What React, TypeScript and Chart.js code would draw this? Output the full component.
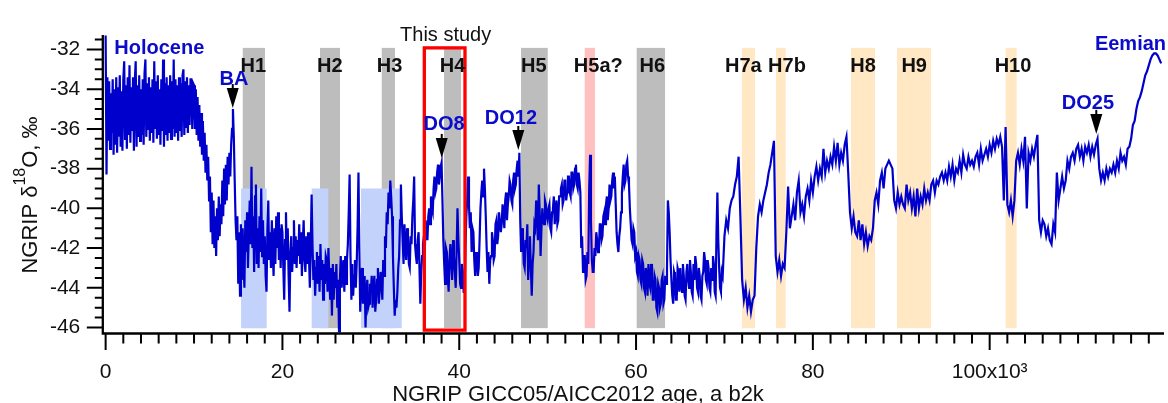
import React, { useEffect, useRef } from 'react';
import { Chart, registerables } from 'chart.js';

Chart.register(...registerables);

// ---------------- DATA ----------------
// NGRIP d18O (permil); each block starts at BLOCK_START_KA and is sampled every BLOCK_STEP_KA
const BLOCK_START_KA = [0, 10, 40, 70, 80, 100];
const BLOCK_STEP_KA = [0.1, 0.1, 0.1, 0.2, 0.2, 0.2];

const D18O_0_10 = [
  -31.3, -38.3, -33.4, -36.6, -33.6, -37.0, -34.2, -36.2, -33.5, -37.3,
  -34.0, -36.8, -33.4, -37.2, -33.9, -36.4, -33.3, -36.9, -34.1, -37.1,
  -33.5, -32.6, -36.5, -33.8, -37.0, -33.4, -36.3, -32.8, -36.7, -33.9,
  -36.1, -33.4, -37.1, -33.6, -32.6, -36.9, -33.8, -36.4, -33.3, -36.6,
  -34.0, -36.3, -33.5, -36.8, -33.2, -32.5, -36.4, -33.7, -36.0, -33.4,
  -36.6, -33.9, -36.2, -33.5, -36.7, -32.6, -36.0, -33.6, -36.5, -33.3,
  -36.3, -34.0, -36.8, -33.5, -36.1, -32.5, -36.9, -33.7, -36.3, -33.4,
  -36.6, -33.8, -36.2, -33.3, -36.5, -33.6, -36.0, -32.5, -36.4, -33.5,
  -36.2, -33.8, -36.6, -33.4, -36.1, -33.7, -36.4, -33.3, -33.0, -36.3,
  -33.6, -35.9, -33.4, -36.2, -33.8, -35.8, -33.5, -33.5, -36.0, -33.7,
];
const D18O_10_40 = [
  -33.8, -36.0, -34.0, -36.3, -34.4, -36.6, -34.8, -36.9, -35.2, -37.3,
  -35.6, -37.6, -36.2, -38.2, -36.8, -38.6, -37.4, -39.6, -38.4, -41.2,
  -39.2, -41.8, -39.6, -42.0, -40.4, -42.4, -40.0, -41.6, -39.4, -41.4,
  -39.8, -40.8, -38.6, -40.4, -38.0, -39.8, -37.8, -39.6, -37.4, -38.8,
  -37.2, -38.4, -36.8, -36.0, -35.0, -36.4, -38.6, -40.6, -41.6, -40.4,
  -43.8, -41.2, -44.4, -40.8, -43.6, -41.0, -42.8, -44.0, -40.6, -42.2,
  -40.2, -43.0, -41.2, -39.6, -41.8, -37.9, -42.0, -40.4, -43.2, -39.4,
  -38.8, -42.8, -41.0, -43.0, -40.4, -42.2, -39.0, -42.4, -40.6, -42.8,
  -41.4, -43.4, -44.2, -41.0, -39.6, -42.6, -41.2, -43.0, -40.6, -42.2,
  -43.4, -41.0, -42.8, -40.4, -42.0, -40.2, -42.6, -41.0, -43.0, -40.8,
  -41.2, -43.0, -44.6, -41.6, -40.2, -42.6, -41.0, -43.4, -45.2, -42.2,
  -41.4, -43.2, -42.0, -40.6, -42.8, -41.4, -43.0, -41.6, -42.4, -40.8,
  -42.8, -41.2, -43.4, -41.8, -40.6, -42.6, -43.2, -41.4, -42.8, -41.2,
  -42.4, -44.0, -42.0, -39.3, -41.8, -43.6, -42.6, -44.4, -43.0, -42.2,
  -43.8, -42.4, -44.2, -41.8, -43.6, -42.6, -44.6, -42.8, -43.8, -42.4,
  -42.6, -44.2, -42.0, -43.4, -44.6, -43.0, -45.4, -42.8, -44.6, -43.2,
  -44.0, -42.8, -45.0, -43.6, -46.2, -43.6, -42.4, -44.0, -43.0, -42.6,
  -44.2, -42.4, -43.8, -42.6, -41.8, -40.2, -38.3, -42.4, -44.6, -42.8,
  -44.4, -43.4, -42.6, -44.0, -42.8, -41.0, -38.2, -42.0, -45.2, -43.6,
  -43.0, -44.8, -44.4, -43.4, -46.0, -44.2, -43.6, -45.0, -44.8, -43.8,
  -44.2, -43.4, -45.0, -44.0, -43.4, -45.2, -44.6, -43.6, -43.0, -44.8,
  -44.2, -43.2, -43.6, -44.6, -42.6, -43.4, -41.4, -42.0, -40.2, -40.8,
  -39.2, -40.0, -38.6, -39.4, -40.4, -42.4, -44.0, -45.4, -44.6, -45.0,
  -44.2, -43.0, -42.4, -40.6, -38.8, -40.4, -41.6, -42.8, -40.8, -41.8,
  -42.6, -41.0, -41.4, -42.8, -43.0, -41.4, -41.8, -40.4, -39.6, -38.4,
  -41.8, -42.4, -42.8, -41.6, -41.2, -43.0, -44.8, -43.2, -42.4, -41.8,
  -41.4, -42.2, -40.6, -41.2, -41.6, -40.4, -40.0, -40.8, -39.4, -40.0,
  -40.2, -39.0, -38.4, -39.2, -39.0, -38.2, -37.8, -38.8, -38.4, -37.9,
  -37.7, -39.6, -41.6, -42.8, -43.8, -42.0, -42.2, -43.4, -44.2, -42.6,
  -41.8, -42.8, -43.6, -41.6, -42.4, -43.2, -44.0, -42.2, -40.0, -41.6,
];
const D18O_40_70 = [
  -42.6, -43.8, -44.0, -42.8, -43.2, -44.2, -44.2, -42.0, -40.4, -39.6,
  -38.4, -39.8, -41.0, -40.2, -42.2, -41.0, -41.2, -42.6, -43.4, -42.2,
  -42.6, -43.4, -43.0, -41.6, -40.0, -39.2, -38.6, -39.4, -38.0, -39.0,
  -40.4, -42.0, -43.2, -42.2, -43.8, -42.6, -42.4, -41.2, -41.6, -42.6,
  -42.4, -40.8, -40.6, -41.8, -41.4, -40.2, -40.2, -41.2, -40.8, -39.8,
  -40.2, -41.0, -39.6, -39.2, -40.6, -39.8, -39.4, -38.6, -38.8, -39.6,
  -39.8, -38.6, -38.2, -39.0, -38.8, -38.0, -37.6, -38.4, -37.2, -40.6,
  -42.2, -41.0, -41.4, -42.8, -43.0, -41.6, -42.0, -40.8, -43.6, -42.4,
  -41.4, -43.0, -44.4, -42.8, -42.2, -40.8, -41.0, -39.6, -40.0, -41.6,
  -38.8, -40.2, -42.4, -41.0, -40.0, -40.6, -40.8, -39.6, -39.8, -40.4,
  -40.6, -40.0, -39.8, -41.0, -41.2, -40.2, -40.0, -39.4, -40.8, -40.2,
  -39.6, -40.8, -40.6, -39.4, -39.4, -39.0, -38.8, -39.8, -39.6, -38.6,
  -38.6, -39.6, -39.2, -38.4, -38.4, -39.2, -39.4, -38.2, -38.2, -39.0,
  -38.8, -38.0, -37.8, -38.8, -39.0, -38.2, -38.6, -39.2, -42.0, -41.4,
  -43.2, -42.4, -42.4, -43.6, -43.4, -42.2, -42.8, -39.0, -37.3, -40.6,
  -42.6, -43.2, -43.2, -42.0, -42.4, -41.2, -41.6, -42.2, -42.0, -40.8,
  -40.8, -41.6, -41.4, -40.4, -40.2, -40.8, -39.8, -39.4, -40.6, -40.0,
  -38.8, -39.6, -39.4, -38.6, -38.2, -39.0, -38.4, -39.8, -41.2, -41.8,
  -42.2, -41.4, -41.0, -40.2, -39.2, -38.4, -37.8, -38.8, -38.6, -37.8,
  -37.6, -38.4, -38.8, -40.0, -40.8, -41.6, -41.8, -41.0, -41.2, -42.4,
  -42.2, -43.2, -43.4, -42.4, -42.6, -43.6, -43.8, -42.6, -42.8, -44.0,
  -44.2, -43.0, -43.4, -44.4, -42.8, -43.8, -44.0, -42.8, -43.2, -44.6,
  -44.6, -43.4, -43.6, -45.0, -45.2, -43.8, -44.0, -45.0, -44.8, -43.6,
  -43.4, -44.8, -44.6, -43.4, -43.8, -43.0, -39.6, -40.2, -41.2, -42.6,
  -43.6, -44.4, -44.8, -43.2, -43.4, -44.6, -44.6, -43.0, -43.2, -44.2,
  -43.0, -43.8, -44.2, -42.8, -43.4, -44.4, -44.6, -43.2, -42.8, -43.6,
  -44.0, -42.6, -43.2, -44.2, -44.4, -42.8, -43.6, -42.4, -42.8, -44.0,
  -44.2, -43.0, -43.4, -44.4, -44.6, -43.4, -43.2, -42.2, -42.6, -43.6,
  -43.8, -42.6, -43.0, -44.0, -44.2, -43.0, -43.6, -42.4, -42.8, -44.2,
  -44.4, -41.2, -39.2, -41.6, -43.0, -44.0, -44.2, -43.2, -43.4, -42.4,
];
const D18O_70_80 = [
  -41.4, -40.6, -41.0, -40.0, -39.6, -39.4, -38.8, -38.4, -37.4, -40.4, -43.6, -44.6, -44.0, -45.0, -44.4, -45.2, -44.6, -44.4, -42.0, -40.4, -39.8, -40.2, -39.6, -39.2, -38.8,
  -38.2, -37.8, -37.2, -36.6, -42.4, -43.2, -42.6, -43.4, -42.8, -43.0, -41.2, -38.9, -41.0, -40.4, -39.8, -40.6, -39.2, -38.6, -40.2, -39.8, -40.4, -39.4, -39.0, -39.6, -38.6,
];
const D18O_80_100 = [
  -39.2, -38.4, -37.9, -38.6, -38.0, -38.4, -37.0, -38.2, -37.6, -38.0, -37.4, -37.8, -36.9, -37.6, -36.7, -37.8, -37.2, -37.6, -36.8, -36.4, -38.2, -40.2, -41.0, -40.4, -41.2,
  -41.4, -40.6, -41.6, -40.8, -41.8, -41.2, -41.9, -41.4, -41.6, -41.0, -39.6, -39.2, -39.8, -38.6, -38.2, -39.0, -38.0, -37.8, -37.6, -37.8, -38.0, -39.6, -40.0, -39.2, -39.8,
  -39.4, -39.8, -40.0, -38.8, -39.6, -39.2, -40.0, -39.4, -40.4, -39.0, -40.0, -39.4, -39.8, -39.0, -39.6, -39.2, -39.6, -38.8, -38.6, -39.2, -38.6, -38.8, -38.4, -38.2, -38.6,
  -38.2, -38.6, -37.9, -38.4, -37.8, -38.6, -38.0, -38.2, -37.6, -38.2, -37.3, -37.8, -38.0, -37.4, -37.8, -37.6, -37.9, -37.4, -37.2, -37.8, -37.0, -37.6, -37.3, -37.0, -37.4,
];
const D18O_100_120 = [
  -36.8, -37.2, -36.6, -37.0, -36.5, -36.8, -36.4, -36.9, -39.6, -35.9, -39.8, -40.2, -39.6, -40.4, -39.6, -37.6, -37.2, -37.8, -37.0, -37.6, -36.4, -40.0, -37.2, -37.6, -37.0,
  -37.4, -36.8, -36.3, -40.6, -41.2, -40.6, -40.8, -41.4, -41.0, -41.6, -41.8, -40.8, -41.2, -38.2, -39.6, -39.0, -38.4, -39.0, -38.6, -37.6, -38.0, -37.4, -37.2, -37.6, -37.0,
  -36.8, -37.4, -37.0, -37.6, -36.9, -37.2, -36.8, -37.4, -36.9, -37.3, -36.8, -36.5, -38.0, -38.6, -38.2, -38.6, -38.0, -38.4, -38.0, -38.2, -37.8, -38.2, -37.6, -38.0, -37.2,
  -37.6, -37.4, -37.8, -37.0, -36.9, -36.5, -35.8, -35.6, -35.0, -34.6, -34.4, -34.1, -33.7, -33.3, -33.1, -32.8, -32.5, -32.3, -32.2, -32.2, -32.3, -32.5, -32.7,
];
const D18O_BLOCKS = [D18O_0_10, D18O_10_40, D18O_40_70, D18O_70_80, D18O_80_100, D18O_100_120];

// axis ticks
const Y_TICKS = [-46, -44, -42, -40, -38, -36, -34, -32];
const X_TICKS = [0, 20, 40, 60, 80, 100];
const X_TICK_LABELS = ['0', '20', '40', '60', '80', '100x10\u00B3'];

// Heinrich events (shaded bands), ka
const EVENT_NAMES = ['H1', 'H2', 'H3', 'H4', 'H5', 'H5a?', 'H6', 'H7a', 'H7b', 'H8', 'H9', 'H10'];
const EVENT_START = [15.51, 24.25, 31.23, 38.28, 46.99, 54.19, 60.07, 71.98, 75.83, 84.32, 89.52, 101.81];
const EVENT_END = [18.03, 26.51, 32.73, 40.2, 50.01, 55.36, 63.28, 73.45, 76.93, 87.03, 93.37, 103.05];
const EVENT_KIND = ['gray', 'gray', 'gray', 'gray', 'gray', 'pink', 'gray', 'orange', 'orange', 'orange', 'orange', 'orange'];
const EVENT_LABEL_AGE = [16.71, 25.36, 32.11, 39.24, 48.43, 55.73, 61.83, 72.13, 77.07, 85.67, 91.46, 102.64];

// stadial boxes (light blue), ka
const STADIAL_START = [15.32, 23.31, 28.89];
const STADIAL_END = [18.22, 25.19, 33.49];

// climate period labels
const PERIOD_TEXT = ['Holocene', 'BA', 'DO8', 'DO12', 'DO25', 'Eemian'];
const PERIOD_AGE = [0.98, 14.52, 38.28, 45.85, 111.12, 119.95];
const PERIOD_VALUE = [-32.24, -33.8, -36.05, -35.77, -35.0, -32.03];
const PERIOD_ALIGN = ['left', 'center', 'center', 'center', 'center', 'right'];

// arrows pointing at warm peaks
const ARROW_AGE = [14.38, 38.02, 46.68, 112.06];
const ARROW_TIP = [-34.95, -37.46, -37.06, -36.25];

// "This study" interval
const STUDY_START = 36.05;
const STUDY_END = 40.65;
const STUDY_TOP = -31.92;
const STUDY_BOTTOM = -46.13;

// ---------------- STYLE ----------------
const FONT = "'Liberation Sans', Arial, Helvetica, sans-serif";
const LINE_BLUE = '#0000cc';
const LABEL_BLUE = '#0b0bcc';
const BAND_TOP = -31.92;
const BAND_BOTTOM = -46.03;
const STADIAL_TOP = -39.0;
const BAND_COLORS: Record<string, string> = {
  gray: '#bdbdbd',
  pink: '#ffc0c0',
  orange: '#ffe8c3',
  blue: '#c2d2fb',
};

const overlayPlugin = {
  id: 'overlay',
  beforeDatasetsDraw(chart: any) {
    const { ctx, chartArea, scales } = chart;
    const x = scales.x;
    const y = scales.y;
    ctx.save();
    ctx.beginPath();
    ctx.rect(chartArea.left, chartArea.top, chartArea.right - chartArea.left, chartArea.bottom - chartArea.top);
    ctx.clip();
    const yt = y.getPixelForValue(BAND_TOP);
    const yb = y.getPixelForValue(BAND_BOTTOM);
    EVENT_NAMES.forEach((_, i) => {
      const x0 = x.getPixelForValue(EVENT_START[i]);
      const x1 = x.getPixelForValue(EVENT_END[i]);
      ctx.fillStyle = BAND_COLORS[EVENT_KIND[i]];
      ctx.fillRect(x0, yt, x1 - x0, yb - yt);
    });
    const st = y.getPixelForValue(STADIAL_TOP);
    STADIAL_START.forEach((s, i) => {
      const x0 = x.getPixelForValue(s);
      const x1 = x.getPixelForValue(STADIAL_END[i]);
      ctx.fillStyle = BAND_COLORS.blue;
      ctx.fillRect(x0, st, x1 - x0, yb - st);
    });
    ctx.restore();
  },
  afterDatasetsDraw(chart: any) {
    const { ctx, chartArea, scales } = chart;
    const x = scales.x;
    const y = scales.y;
    ctx.save();

    // study rectangle
    ctx.strokeStyle = '#ff0000';
    ctx.lineWidth = 3.3;
    const rx0 = x.getPixelForValue(STUDY_START);
    const rx1 = x.getPixelForValue(STUDY_END);
    const ry0 = y.getPixelForValue(STUDY_TOP);
    const ry1 = y.getPixelForValue(STUDY_BOTTOM);
    ctx.strokeRect(rx0, ry0, rx1 - rx0, ry1 - ry0);

    // "This study"
    ctx.fillStyle = '#111';
    ctx.font = `20px ${FONT}`;
    ctx.textAlign = 'center';
    ctx.textBaseline = 'alphabetic';
    ctx.fillText('This study', x.getPixelForValue((STUDY_START + STUDY_END) / 2) + 1, y.getPixelForValue(-31.595));

    // event labels
    ctx.font = `bold 20px ${FONT}`;
    ctx.fillStyle = '#111';
    EVENT_NAMES.forEach((n, i) => {
      ctx.fillText(n, x.getPixelForValue(EVENT_LABEL_AGE[i]), y.getPixelForValue(-33.12));
    });

    // period labels
    ctx.fillStyle = LABEL_BLUE;
    PERIOD_TEXT.forEach((t, i) => {
      ctx.textAlign = PERIOD_ALIGN[i] as CanvasTextAlign;
      ctx.fillText(t, x.getPixelForValue(PERIOD_AGE[i]), y.getPixelForValue(PERIOD_VALUE[i]));
    });

    // arrows
    ctx.fillStyle = '#000';
    ctx.strokeStyle = '#000';
    ARROW_AGE.forEach((a, i) => {
      const ax = x.getPixelForValue(a);
      const ay = y.getPixelForValue(ARROW_TIP[i]);
      ctx.lineWidth = 2;
      ctx.beginPath();
      ctx.moveTo(ax, ay - 24);
      ctx.lineTo(ax, ay - 18);
      ctx.stroke();
      ctx.beginPath();
      ctx.moveTo(ax - 6, ay - 20);
      ctx.lineTo(ax + 6, ay - 20);
      ctx.lineTo(ax, ay);
      ctx.closePath();
      ctx.fill();
    });

    // axes lines
    ctx.strokeStyle = '#000';
    ctx.lineWidth = 2.3;
    ctx.beginPath();
    ctx.moveTo(chartArea.left, chartArea.top);
    ctx.lineTo(chartArea.left, chartArea.bottom + 1.1);
    ctx.moveTo(chartArea.left - 1.1, chartArea.bottom);
    ctx.lineTo(chartArea.right, chartArea.bottom);
    ctx.stroke();

    // y ticks every 0.5, major on even values
    ctx.lineWidth = 2;
    ctx.beginPath();
    for (let v = -46; v <= y.max + 1e-9; v += 0.5) {
      const py = y.getPixelForValue(v);
      const major = Y_TICKS.includes(v);
      ctx.moveTo(chartArea.left, py);
      ctx.lineTo(chartArea.left - (major ? 16 : 8), py);
    }
    // x ticks every 2 ka, major every 20 ka
    for (let v = 0; v <= x.max + 1e-9; v += 2) {
      const px = x.getPixelForValue(v);
      const major = X_TICKS.includes(v);
      ctx.moveTo(px, chartArea.bottom);
      ctx.lineTo(px, chartArea.bottom + (major ? 16.5 : 10));
    }
    ctx.stroke();

    // x title
    ctx.fillStyle = '#111';
    ctx.font = `22px ${FONT}`;
    ctx.textAlign = 'center';
    ctx.textBaseline = 'alphabetic';
    ctx.fillText('NGRIP GICC05/AICC2012 age, a b2k', 578, 400.5);

    // y title (rotated, with superscript)
    ctx.translate(29, 195);
    ctx.rotate(-Math.PI / 2);
    const main = `22px ${FONT}`;
    const sup = `16px ${FONT}`;
    const p1 = 'NGRIP \u03B4';
    const p2 = '18';
    const p3 = 'O, \u2030';
    ctx.font = main;
    const w1 = ctx.measureText(p1).width;
    const w3 = ctx.measureText(p3).width;
    ctx.font = sup;
    const w2 = ctx.measureText(p2).width;
    const total = w1 + w2 + w3;
    let cx = -total / 2;
    ctx.textAlign = 'left';
    ctx.font = main;
    ctx.fillText(p1, cx, 7.9);
    cx += w1;
    ctx.font = sup;
    ctx.fillText(p2, cx, -4);
    cx += w2;
    ctx.font = main;
    ctx.fillText(p3, cx, 7.9);

    ctx.restore();
  },
};

export default function App() {
  const canvasRef = useRef<HTMLCanvasElement | null>(null);

  useEffect(() => {
    const canvas = canvasRef.current;
    if (!canvas) return;
    const points: { x: number; y: number }[] = [];
    D18O_BLOCKS.forEach((block, b) => {
      block.forEach((v, i) => {
        points.push({ x: BLOCK_START_KA[b] + i * BLOCK_STEP_KA[b], y: v });
      });
    });

    const chart = new Chart(canvas, {
      type: 'line',
      data: {
        datasets: [
          {
            data: points,
            borderColor: LINE_BLUE,
            borderWidth: 2.2,
            borderJoinStyle: 'miter',
            pointRadius: 0,
            tension: 0,
            fill: false,
          },
        ],
      },
      options: {
        animation: false,
        responsive: false,
        devicePixelRatio: 1,
        parsing: false,
        normalized: true,
        layout: { padding: { top: 21.7, right: 4, bottom: 0, left: 0 } },
        plugins: {
          legend: { display: false },
          tooltip: { enabled: false },
          title: { display: false },
        },
        scales: {
          x: {
            type: 'linear',
            min: -0.32,
            max: 119.72,
            grid: { display: false, drawTicks: false },
            border: { display: false },
            afterFit: (s: any) => {
              s.height = 69.5;
            },
            afterBuildTicks: (s: any) => {
              s.ticks = X_TICKS.map((v) => ({ value: v }));
            },
            ticks: {
              autoSkip: false,
              maxRotation: 0,
              minRotation: 0,
              padding: 26,
              color: '#111',
              font: { family: FONT, size: 21 },
              callback: (value: any) => {
                const idx = X_TICKS.indexOf(Number(value));
                return idx >= 0 ? X_TICK_LABELS[idx] : '';
              },
            },
          },
          y: {
            type: 'linear',
            min: -46.3,
            max: -31.277,
            grid: { display: false, drawTicks: false },
            border: { display: false },
            afterFit: (s: any) => {
              s.width = 102.8;
            },
            afterBuildTicks: (s: any) => {
              s.ticks = Y_TICKS.map((v) => ({ value: v }));
            },
            ticks: {
              autoSkip: false,
              padding: 22.5,
              color: '#111',
              font: { family: FONT, size: 21 },
              callback: (value: any) => String(value),
            },
          },
        },
      },
      plugins: [overlayPlugin],
    });

    return () => {
      chart.destroy();
    };
  }, []);

  return (
    <div style={{ position: 'fixed', left: 0, top: 0, width: 1168, height: 403, background: '#fff' }}>
      <canvas ref={canvasRef} width={1168} height={403} style={{ display: 'block', width: 1168, height: 403 }} />
    </div>
  );
}
